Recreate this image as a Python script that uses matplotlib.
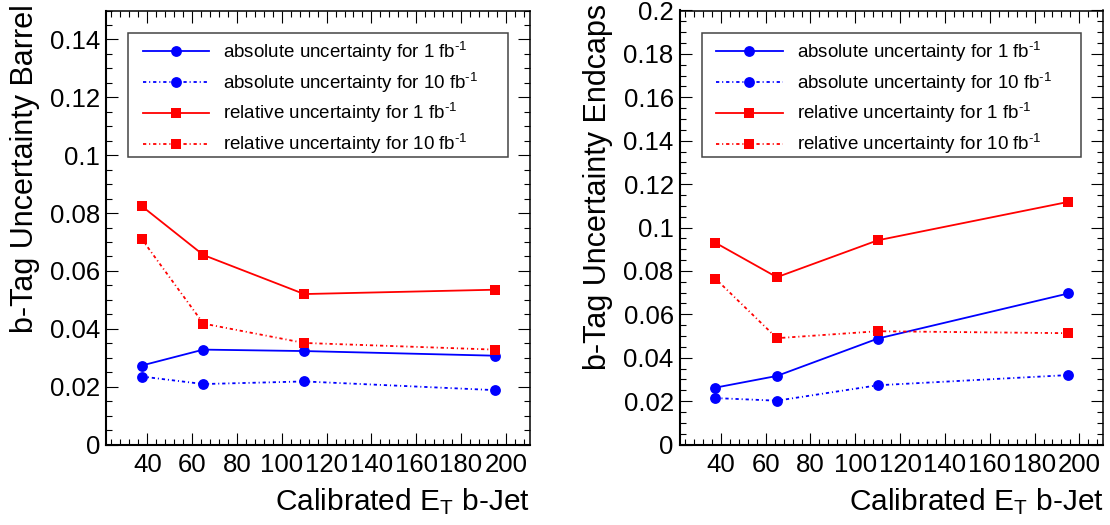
"""b-tag uncertainty vs calibrated jet ET, barrel and endcaps side by side."""

import matplotlib

matplotlib.use("Agg")
import matplotlib.pyplot as plt
from matplotlib.patches import Rectangle
from matplotlib.ticker import FixedLocator, MultipleLocator, FuncFormatter

plt.rcParams["font.family"] = ["Liberation Sans", "DejaVu Sans"]
plt.rcParams["mathtext.fontset"] = "custom"
plt.rcParams["mathtext.rm"] = "Liberation Sans"
plt.rcParams["mathtext.default"] = "regular"

# jet ET bin centres (GeV)
ET = [37.5, 65, 110, 195]

BARREL_ABS_1 = [0.0273, 0.0328, 0.0323, 0.0307]
BARREL_ABS_10 = [0.0235, 0.0209, 0.0218, 0.0188]
BARREL_REL_1 = [0.0824, 0.0655, 0.0520, 0.0535]
BARREL_REL_10 = [0.0710, 0.0418, 0.0351, 0.0328]

ENDCAP_ABS_1 = [0.0262, 0.0316, 0.0488, 0.0696]
ENDCAP_ABS_10 = [0.0214, 0.0202, 0.0273, 0.0320]
ENDCAP_REL_1 = [0.0930, 0.0771, 0.0941, 0.1118]
ENDCAP_REL_10 = [0.0765, 0.0490, 0.0522, 0.0513]

LABELS = [
    r"absolute uncertainty for 1 fb$^{\text{-1}}$",
    r"absolute uncertainty for 10 fb$^{\text{-1}}$",
    r"relative uncertainty for 1 fb$^{\text{-1}}$",
    r"relative uncertainty for 10 fb$^{\text{-1}}$",
]

X_TICKS = [40, 60, 80, 100, 120, 140, 160, 180, 200]
Y_TICKS_BARREL = [0, 0.02, 0.04, 0.06, 0.08, 0.1, 0.12, 0.14]
Y_TICKS_ENDCAP = [0, 0.02, 0.04, 0.06, 0.08, 0.1, 0.12, 0.14, 0.16, 0.18, 0.2]

DASHDOT = (0, (1.8, 1.6, 0.6, 1.6))


def draw_panel(ax, series, ylabel, ymax, yticks):
    styles = [
        dict(color="#0000ff", marker="o", ms=7.8, ls="-"),
        dict(color="#0000ff", marker="o", ms=7.8, ls=DASHDOT),
        dict(color="#ff0000", marker="s", ms=7.2, ls="-"),
        dict(color="#ff0000", marker="s", ms=7.2, ls=DASHDOT),
    ]
    handles = []
    for values, label, st in zip(series, LABELS, styles):
        (h,) = ax.plot(ET, values, lw=1.3, mew=0, label=label, **st)
        handles.append(h)

    ax.set_xlim(21.75, 210.75)
    ax.set_ylim(0, ymax)
    ax.xaxis.set_major_locator(FixedLocator(X_TICKS))
    ax.xaxis.set_minor_locator(MultipleLocator(4))
    ax.yaxis.set_major_locator(FixedLocator(yticks))
    ax.yaxis.set_minor_locator(MultipleLocator(0.005))
    ax.yaxis.set_major_formatter(FuncFormatter(lambda v, p: f"{v:g}"))

    ax.tick_params(which="both", direction="in", top=True, right=True,
                   labelsize=18.5, width=0.8, color="black")
    ax.tick_params(which="major", length=8.6)
    ax.tick_params(which="minor", length=4.3)
    ax.tick_params(axis="x", pad=6.2)
    ax.tick_params(axis="y", pad=4.5)
    for side in ["left", "bottom"]:
        ax.spines[side].set_linewidth(1.5)
    for side in ["top", "right"]:
        ax.spines[side].set_linewidth(1.1)

    ax.text(1.0, -0.151, "Calibrated E$_{T}$ b-Jet", transform=ax.transAxes,
            ha="right", va="baseline", fontsize=21.5)
    ax.text(-0.1736, 1.015, ylabel, transform=ax.transAxes, rotation=90,
            rotation_mode="anchor", ha="right", va="baseline", fontsize=22)

    ax.add_patch(Rectangle((0.0515, 0.663), 0.8965, 0.2845, transform=ax.transAxes,
                           fill=False, edgecolor="#444444", lw=1.1, zorder=5))
    ax.legend(handles=handles, loc="upper left", bbox_to_anchor=(0.0855, 0.933),
              frameon=False, fontsize=13.5, handlelength=3.55, handletextpad=0.75,
              labelspacing=0.36, borderpad=0, borderaxespad=0)


fig = plt.figure(figsize=(11.1, 5.25), dpi=100)
ax_barrel = fig.add_axes([0.0959, 0.1533, 0.3815, 0.8267])
ax_endcap = fig.add_axes([0.6126, 0.1533, 0.3815, 0.8267])

draw_panel(ax_barrel, [BARREL_ABS_1, BARREL_ABS_10, BARREL_REL_1, BARREL_REL_10],
           "b-Tag Uncertainty Barrel", 0.15, Y_TICKS_BARREL)
draw_panel(ax_endcap, [ENDCAP_ABS_1, ENDCAP_ABS_10, ENDCAP_REL_1, ENDCAP_REL_10],
           "b-Tag Uncertainty Endcaps", 0.2, Y_TICKS_ENDCAP)

fig.savefig("out.png", dpi=100)
